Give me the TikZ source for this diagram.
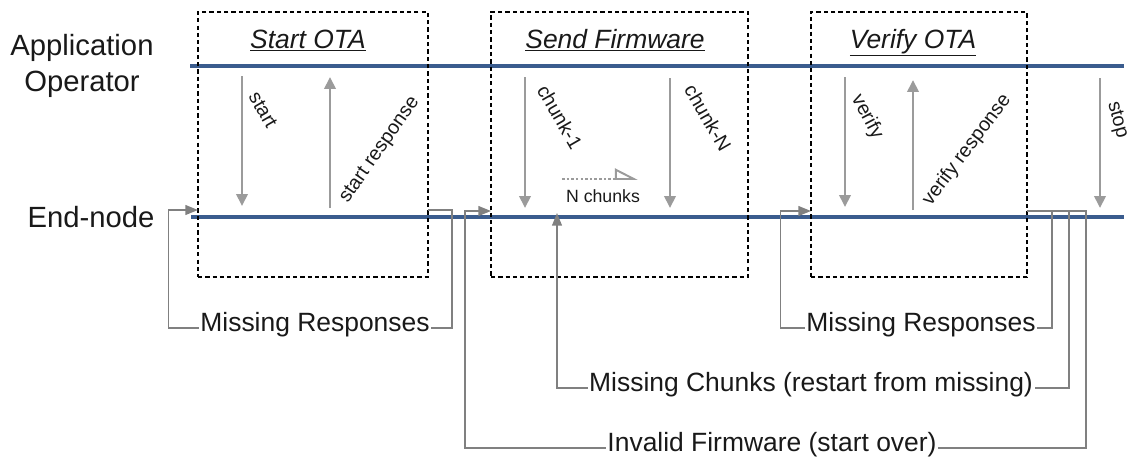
\documentclass[tikz,border=0pt]{standalone}
\usepackage{fontspec}
\setmainfont{Liberation Sans}
\usetikzlibrary{arrows.meta,fit}
\definecolor{lifeline}{RGB}{58,92,142}
\definecolor{message}{RGB}{155,155,155}
\definecolor{feedback}{RGB}{128,128,128}
\definecolor{labeltext}{RGB}{25,25,25}

\begin{document}
\begin{tikzpicture}[x=0.025cm, y=-0.025cm]
    \tikzstyle{every node} = [inner sep=1pt, text=labeltext]
    \tikzstyle{lane} = [line width=2.3pt, draw=lifeline]
    \tikzstyle{lanename} = [font=\fontsize{20.8}{25}\selectfont, align=center]
    \tikzstyle{phasebox} = [draw=black, dash pattern=on 3pt off 2.2pt, line width=0.9pt, inner sep=0pt]
    \tikzstyle{phasetitle} = [font=\fontsize{18.8}{22}\selectfont\itshape, anchor=base]
    \tikzstyle{msg} = [line width=2pt, draw=message, -{Triangle[length=8.5pt, width=8pt]}]
    \tikzstyle{msglabel} = [font=\fontsize{14}{16}\selectfont]
    \tikzstyle{batch} = [line width=1.9pt, draw=message, dash pattern=on 1.8pt off 1.5pt,
        -{Triangle[open, left, length=15pt, width=15pt, line width=1.4pt]}]
    \tikzstyle{retry} = [line width=1.1pt, draw=feedback]
    \tikzstyle{retryarrow} = [retry, -{Triangle[length=9pt, width=7pt]}]
    \tikzstyle{retrylabel} = [font=\fontsize{18.8}{22}\selectfont, anchor=mid]

    \useasboundingbox (0,0) rectangle (1136,462);

    % lanes
    \node[lanename] (operator) at (82,66) {Application\\Operator};
    \node[lanename] (endnode) at (91,217) {End-node};
    \coordinate (opL) at (190,66);  \coordinate (opR) at (1124,66);
    \coordinate (enL) at (191,217); \coordinate (enR) at (1124,217);
    \draw[lane] (opL) -- (opR);
    \draw[lane] (enL) -- (enR);

    % phases
    \node[phasebox, fit={(198,12) (428,277)}] (startbox) {};
    \node[phasebox, fit={(491,12) (748,277)}] (sendbox) {};
    \node[phasebox, fit={(811,12) (1027,277)}] (verifybox) {};
    \node[phasetitle] (starttitle) at (308,48) {\underline{Start OTA}};
    \node[phasetitle] (sendtitle) at (615,48) {\underline{Send Firmware}};
    \node[phasetitle] (verifytitle) at (913,48) {\underline{Verify OTA}};

    % messages
    \foreach \n/\x/\ya/\yb in {start/242/76/206, startresp/330/208/77,
            chunkone/525/77/208, chunkn/670/78/208,
            verify/845/77/207, verifyresp/913/210/80, stop/1100/78/208} {
        \coordinate (\n-a) at (\x,\ya);
        \coordinate (\n-b) at (\x,\yb);
        \draw[msg] (\n-a) -- (\n-b);
    }
    \node[msglabel, rotate=-60] (startlabel) at (263,110) {start};
    \node[msglabel, rotate=55] (startresplabel) at (380,150) {start response};
    \node[msglabel, rotate=-60] (chunkonelabel) at (560,117) {chunk-1};
    \node[msglabel, rotate=-60] (chunknlabel) at (708,118) {chunk-N};
    \node[msglabel, rotate=-62] (verifylabel) at (867,117) {verify};
    \node[msglabel, rotate=53] (verifyresplabel) at (967,150) {verify response};
    \node[msglabel, rotate=-75] (stoplabel) at (1117,120) {stop};

    \coordinate (batch-a) at (562,179);
    \coordinate (batch-b) at (638,179);
    \draw[batch] (batch-a) -- (batch-b);
    \node[font=\fontsize{12.6}{14}\selectfont] (batchlabel) at (603,196) {N chunks};

    % retries
    \coordinate (startbox-out) at (428,210);
    \coordinate (startbox-in) at (198,210);
    \node[retrylabel] (missresp1) at (315,328) {Missing Responses};
    \draw[retry] (startbox-out) -- ++(24,0) |- (missresp1.mid east);
    \draw[retryarrow] (missresp1.mid west) -- ++(-30,0) |- (startbox-in);

    \coordinate (verifybox-out) at (1027,211);
    \coordinate (verifybox-in) at (811,211);
    \node[retrylabel] (missresp2) at (921,328) {Missing Responses};
    \draw[retry] (verifybox-out) -- ++(25,0) |- (missresp2.mid east);
    \draw[retryarrow] (missresp2.mid west) -- ++(-24,0) |- (verifybox-in);

    \coordinate (chunk-in) at (557,213);
    \node[retrylabel] (misschunks) at (811,388) {Missing Chunks (restart from missing)};
    \draw[retry] (verifybox-out) -- ++(42,0) |- (misschunks.mid east);
    \draw[retryarrow] (misschunks.mid west) -| (chunk-in);

    \coordinate (sendbox-in) at (491,211);
    \node[retrylabel] (invalid) at (772,448) {Invalid Firmware (start over)};
    \draw[retry] (verifybox-out) -- ++(59,0) |- (invalid.mid east);
    \draw[retryarrow] (invalid.mid west) -- ++(-141,0) |- (sendbox-in);
\end{tikzpicture}
\end{document}
